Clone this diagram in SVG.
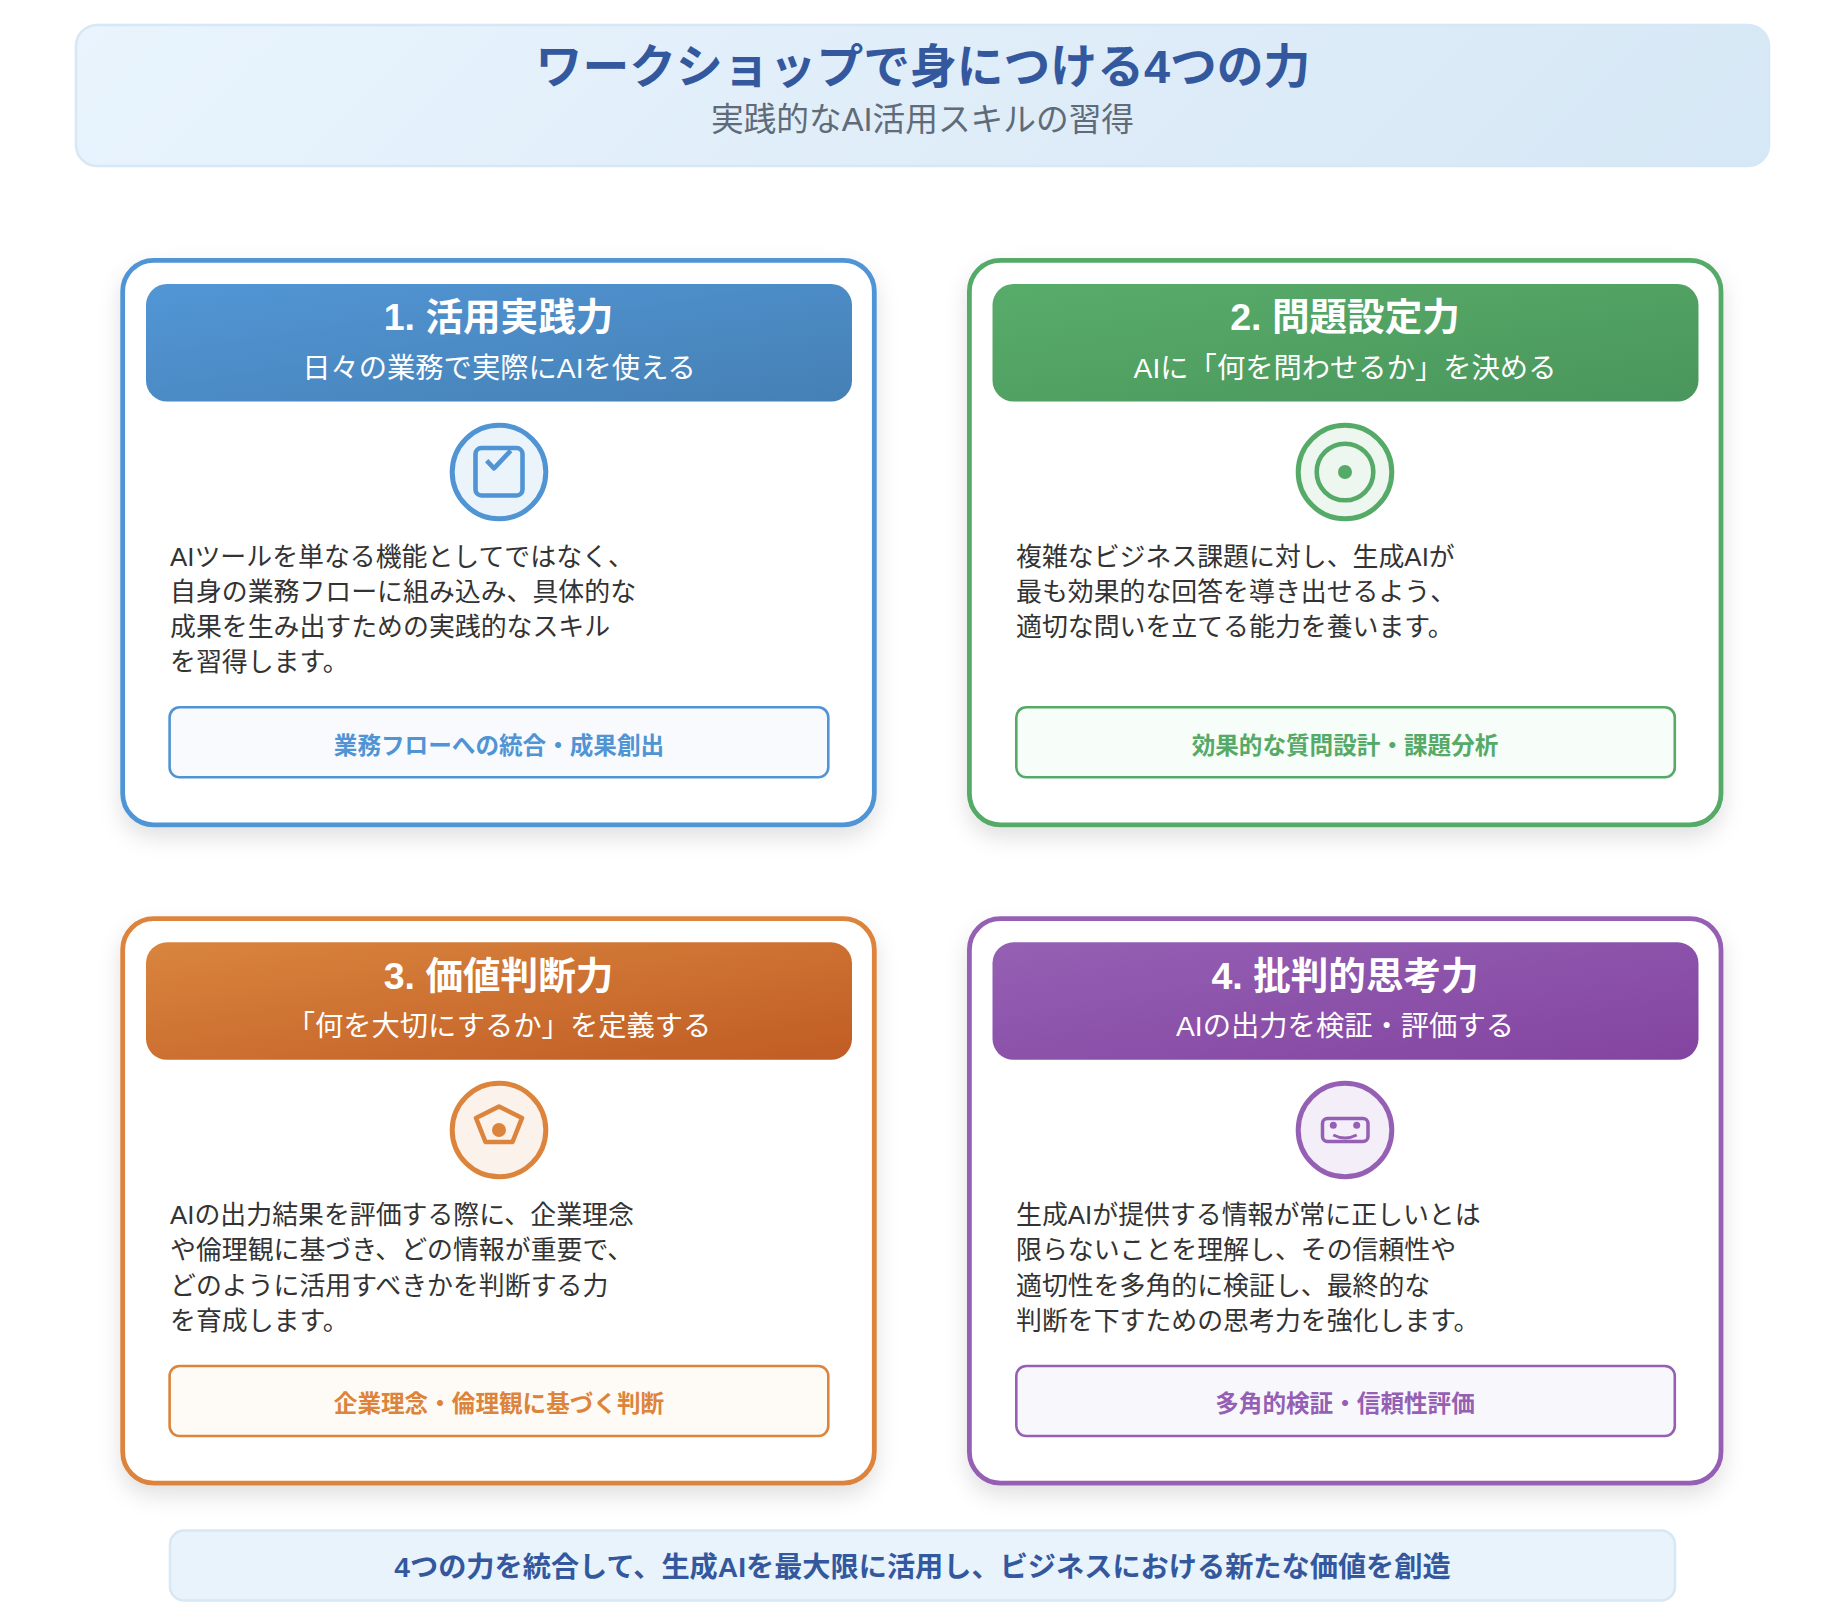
<svg xmlns="http://www.w3.org/2000/svg" width="1848" height="1620" viewBox="0 0 1848 1620">
<style>
text{font-family:"Liberation Sans","Noto Sans CJK JP",sans-serif}
.m{text-anchor:middle}
.ttl{font-size:46.8px;font-weight:700;fill:#34589e}
.sub{font-size:32.7px;fill:#5f6b78}
.ht{font-size:37.6px;font-weight:700;fill:#fff}
.hs{font-size:28.3px;fill:#fff}
.b{font-size:25.9px;fill:#333}
.tag{font-size:23.6px;font-weight:700}
.card{fill:#fff;stroke-width:4.8;filter:url(#sh)}
.tagb{stroke-width:2.6}
.ic{stroke-width:5}
.ig{fill:none;stroke-width:4.6;stroke-linejoin:round;stroke-linecap:butt}
.foot{font-size:28.2px;font-weight:700;fill:#34589e}
</style>
<defs>
<filter id="sh" x="-10%" y="-10%" width="120%" height="125%"><feDropShadow dx="0" dy="10" stdDeviation="11" flood-color="#000" flood-opacity="0.12"/></filter>
<linearGradient id="gh" gradientUnits="userSpaceOnUse" x1="464" y1="-363" x2="1382" y2="554"><stop offset="0" stop-color="#e9f4fd"/><stop offset="1" stop-color="#d6e7f5"/></linearGradient>
<linearGradient id="g1" x1="0" y1="0" x2="1" y2="1"><stop offset="0" stop-color="#5296d6"/><stop offset="1" stop-color="#4580b4"/></linearGradient>
<linearGradient id="g2" x1="0" y1="0" x2="1" y2="1"><stop offset="0" stop-color="#58ac6a"/><stop offset="1" stop-color="#4a965c"/></linearGradient>
<linearGradient id="g3" x1="0" y1="0" x2="1" y2="1"><stop offset="0" stop-color="#d9853e"/><stop offset="1" stop-color="#c05c24"/></linearGradient>
<linearGradient id="g4" x1="0" y1="0" x2="1" y2="1"><stop offset="0" stop-color="#9560b4"/><stop offset="1" stop-color="#8344a0"/></linearGradient>
</defs>

<g id="header">
<rect x="76" y="25" width="1693" height="141" rx="21" fill="url(#gh)" stroke="#d6e7f5" stroke-width="2.500"/>
<text class="m ttl" x="923" y="82.500">ワークショップで身につける4つの力</text>
<text class="m sub" x="922.500" y="130.500">実践的なAI活用スキルの習得</text>
</g>

<g id="connectors"></g>

<g id="card1">
<rect class="card" x="122.700" y="260.300" width="751.600" height="564.500" rx="31" stroke="#5094d4"/>
<rect x="146" y="284" width="706" height="117.500" rx="21" fill="url(#g1)"/>
<text class="m ht" x="498.500" y="330">1. 活用実践力</text>
<text class="m hs" x="499" y="378">日々の業務で実際にAIを使える</text>
<circle class="ic" cx="499" cy="472" r="46.800" fill="#ebf3fb" stroke="#5094d4"/>
<rect class="ig" x="475.500" y="448" width="47" height="47.500" rx="6" stroke="#5094d4"/>
<path class="ig" d="M486.700 460.700L494 468.300L510.700 450.700" stroke="#5094d4"/>
<text class="b" x="170" y="566">AIツールを単なる機能としてではなく、</text>
<text class="b" x="170" y="600.500">自身の業務フローに組み込み、具体的な</text>
<text class="b" x="170" y="636">成果を生み出すための実践的なスキル</text>
<text class="b" x="170" y="671">を習得します。</text>
<rect class="tagb" x="169.600" y="707.300" width="658.700" height="70" rx="10" fill="#f8fafe" stroke="#5094d4"/>
<text class="m tag" x="499" y="753.500" fill="#5094d4">業務フローへの統合・成果創出</text>
</g>

<g id="card2">
<rect class="card" x="969.400" y="260.300" width="751.600" height="564.500" rx="31" stroke="#55aa68"/>
<rect x="992.500" y="284" width="706" height="117.500" rx="21" fill="url(#g2)"/>
<text class="m ht" x="1345" y="330">2. 問題設定力</text>
<text class="m hs" x="1345" y="378">AIに「何を問わせるか」を決める</text>
<circle class="ic" cx="1345" cy="472" r="46.800" fill="#edf6ef" stroke="#55aa68"/>
<circle cx="1345" cy="472" r="28.300" fill="none" stroke="#55aa68" stroke-width="4.600"/>
<circle cx="1345" cy="472" r="7" fill="#55aa68"/>
<text class="b" x="1016" y="566">複雑なビジネス課題に対し、生成AIが</text>
<text class="b" x="1016" y="600.500">最も効果的な回答を導き出せるよう、</text>
<text class="b" x="1016" y="636">適切な問いを立てる能力を養います。</text>
<rect class="tagb" x="1016.300" y="707.300" width="658.500" height="70" rx="10" fill="#f7fdf8" stroke="#55aa68"/>
<text class="m tag" x="1345" y="753.500" fill="#55aa68">効果的な質問設計・課題分析</text>
</g>

<g id="card3">
<rect class="card" x="122.700" y="918.600" width="751.600" height="564.500" rx="31" stroke="#dc843c"/>
<rect x="146" y="942.300" width="706" height="117.500" rx="21" fill="url(#g3)"/>
<text class="m ht" x="498.500" y="989">3. 価値判断力</text>
<text class="m hs" x="499" y="1036">「何を大切にするか」を定義する</text>
<circle class="ic" cx="499" cy="1130" r="46.800" fill="#fbf2ec" stroke="#dc843c"/>
<path class="ig" d="M499 1106.500L522 1118L512.500 1142H485.500L476 1118Z" stroke="#dc843c"/>
<circle cx="499" cy="1130" r="7" fill="#dc843c"/>
<text class="b" x="170" y="1224">AIの出力結果を評価する際に、企業理念</text>
<text class="b" x="170" y="1259">や倫理観に基づき、どの情報が重要で、</text>
<text class="b" x="170" y="1295">どのように活用すべきかを判断する力</text>
<text class="b" x="170" y="1330">を育成します。</text>
<rect class="tagb" x="169.600" y="1366" width="658.700" height="70" rx="10" fill="#fefbf6" stroke="#dc843c"/>
<text class="m tag" x="499" y="1412" fill="#dc843c">企業理念・倫理観に基づく判断</text>
</g>

<g id="card4">
<rect class="card" x="969.400" y="918.600" width="751.600" height="564.500" rx="31" stroke="#9560b4"/>
<rect x="992.500" y="942.300" width="706" height="117.500" rx="21" fill="url(#g4)"/>
<text class="m ht" x="1345" y="989">4. 批判的思考力</text>
<text class="m hs" x="1345" y="1036">AIの出力を検証・評価する</text>
<circle class="ic" cx="1345" cy="1130" r="46.800" fill="#f3eef7" stroke="#9560b4"/>
<rect x="1322.500" y="1118.500" width="45.500" height="23" rx="5" fill="none" stroke="#9560b4" stroke-width="3.500"/>
<circle cx="1333.300" cy="1125.300" r="3.500" fill="#9560b4"/>
<circle cx="1356.700" cy="1125.300" r="3.500" fill="#9560b4"/>
<path d="M1333.300 1135Q1345 1141 1356.700 1135" fill="none" stroke="#9560b4" stroke-width="3"/>
<text class="b" x="1016" y="1224">生成AIが提供する情報が常に正しいとは</text>
<text class="b" x="1016" y="1259">限らないことを理解し、その信頼性や</text>
<text class="b" x="1016" y="1295">適切性を多角的に検証し、最終的な</text>
<text class="b" x="1016" y="1330">判断を下すための思考力を強化します。</text>
<rect class="tagb" x="1016.300" y="1366" width="658.500" height="70" rx="10" fill="#f8f8fc" stroke="#9560b4"/>
<text class="m tag" x="1345" y="1412" fill="#9560b4">多角的検証・信頼性評価</text>
</g>

<g id="footer">
<rect x="170" y="1530.500" width="1505" height="70" rx="14" fill="#e8f3fc" stroke="#d6e7f5" stroke-width="2.500"/>
<text class="m foot" x="922.500" y="1577">4つの力を統合して、生成AIを最大限に活用し、ビジネスにおける新たな価値を創造</text>
</g>
</svg>
